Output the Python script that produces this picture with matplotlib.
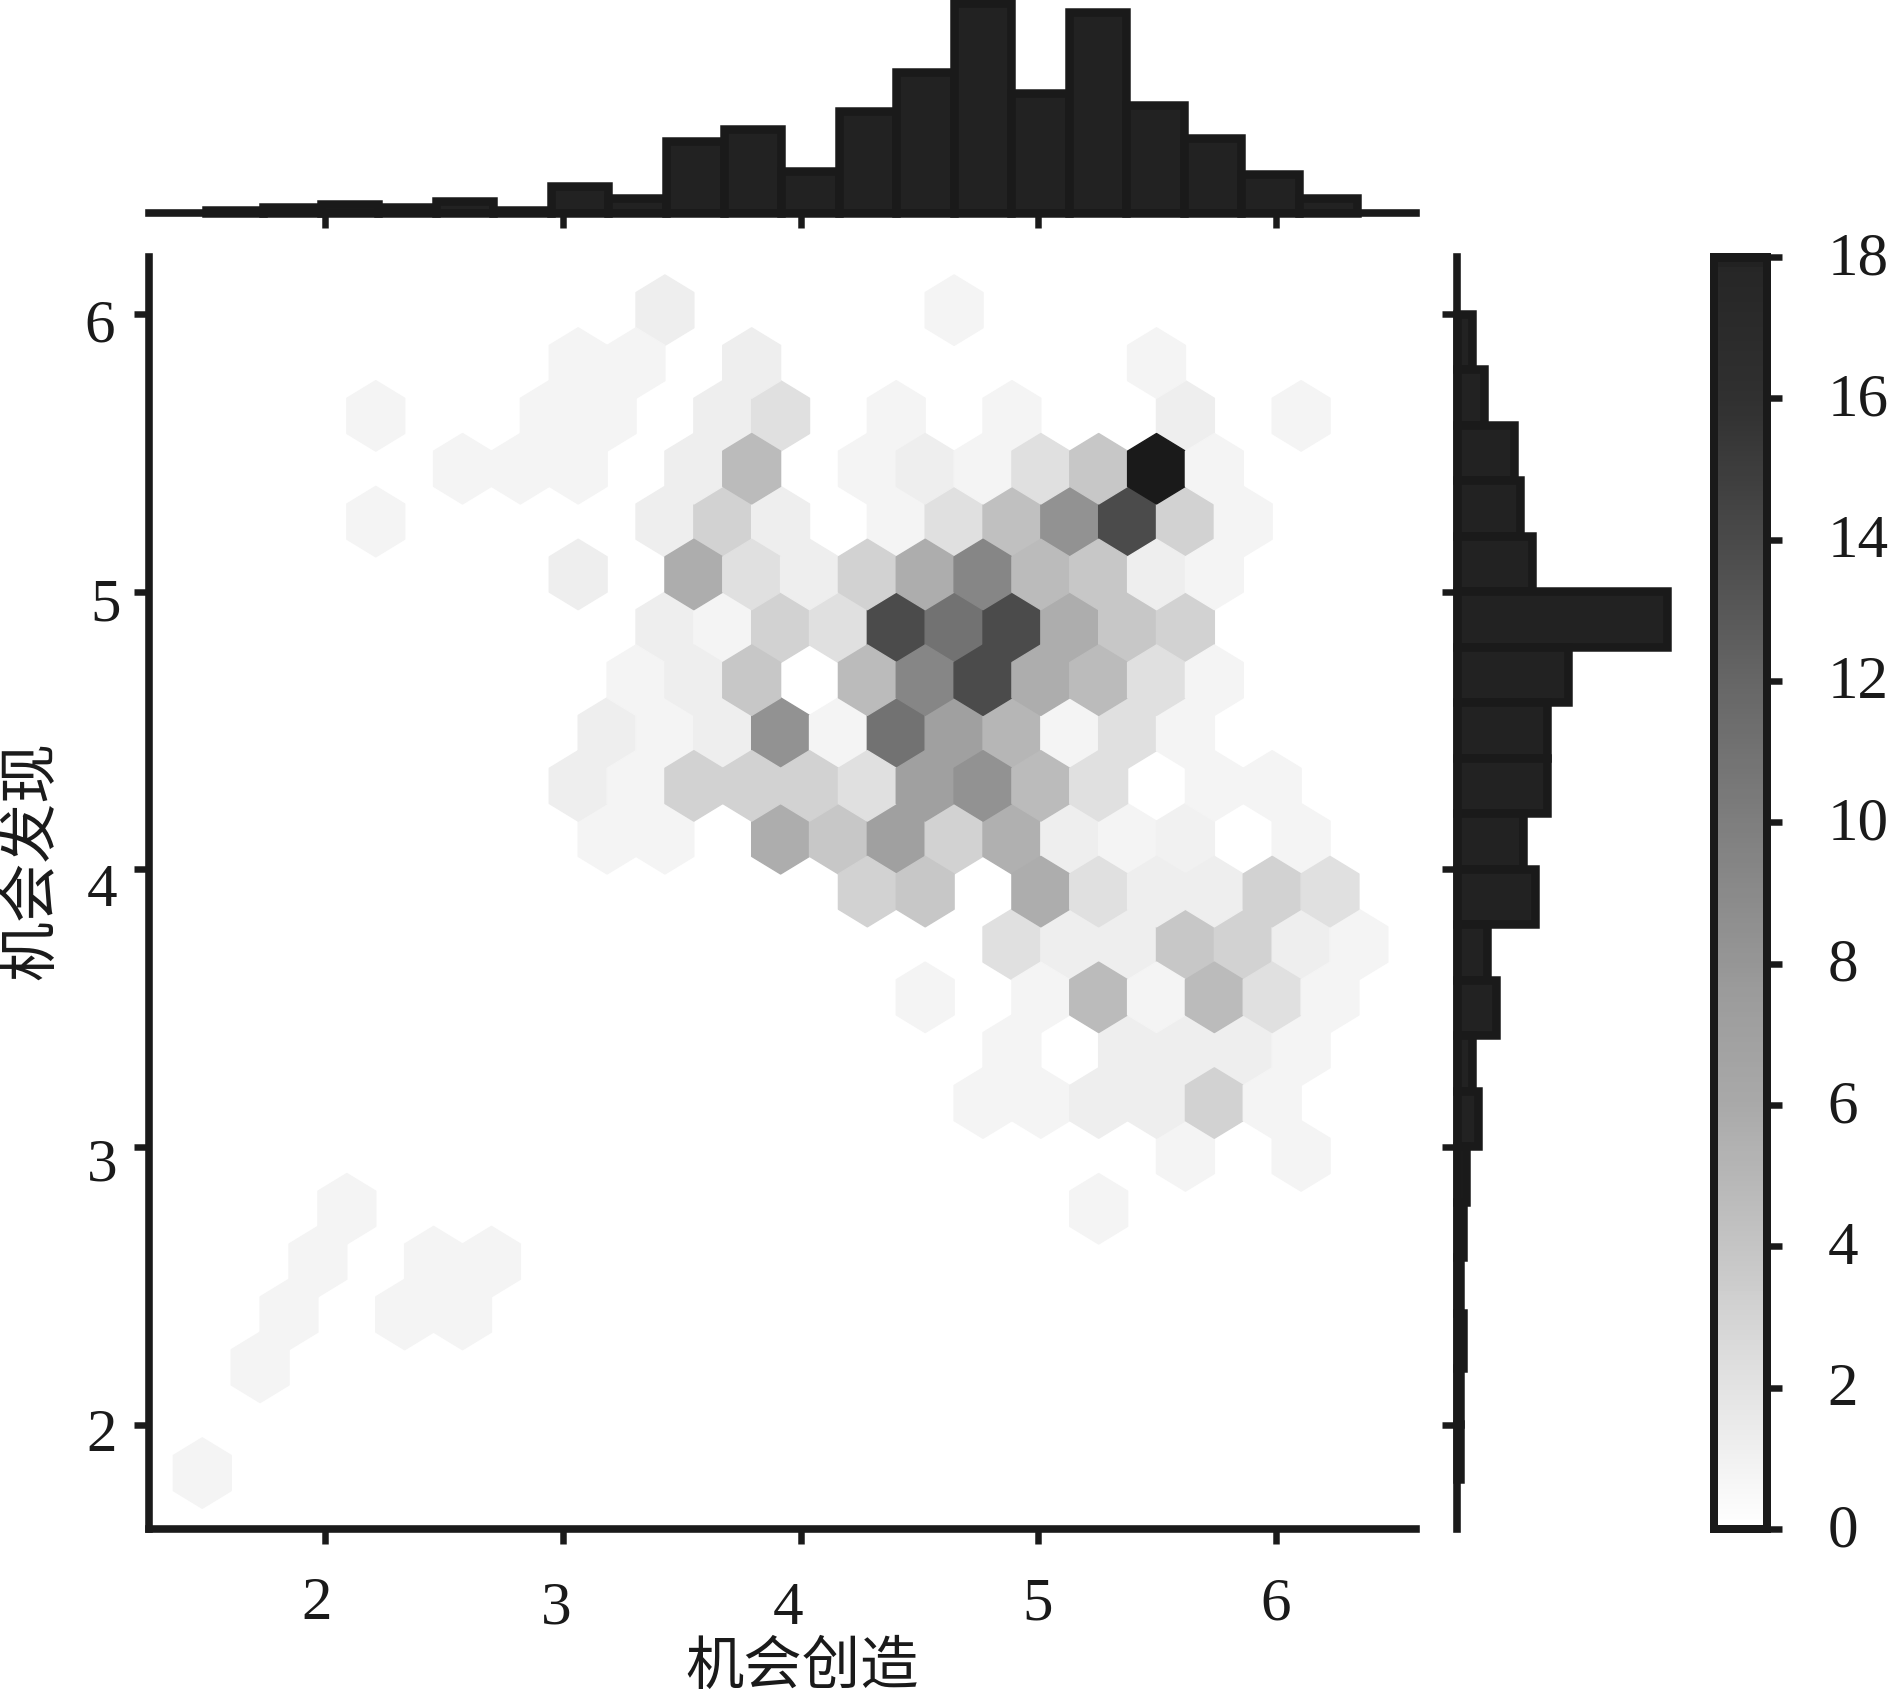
import numpy as np
import matplotlib
matplotlib.use('Agg')
import matplotlib.pyplot as plt
from matplotlib.colors import LinearSegmentedColormap
from matplotlib.transforms import ScaledTranslation

plt.rcParams['font.family'] = ['Liberation Serif', 'Noto Sans CJK SC', 'DejaVu Sans']

W, H = 1888, 1700
INK = '#1a1a1a'

# 六边形格子：行号、列号（半格为单位）、计数
hex_row = [0, 2, 3, 3, 3, 4, 4, 4, 5, 5,
           6, 6,
           7, 7, 7, 7, 7, 7,
           8, 8, 8, 8, 8,
           9, 9, 9, 9, 9, 9, 9,
           10, 10, 10, 10, 10, 10, 10,
           11, 11, 11, 11, 11, 11, 11, 11,
           12, 12, 12, 12, 12, 12, 12, 12, 12, 12, 12,
           13, 13, 13, 13, 13, 13, 13, 13, 13, 13, 13, 13,
           14, 14, 14, 14, 14, 14, 14, 14, 14, 14, 14,
           15, 15, 15, 15, 15, 15, 15, 15, 15, 15,
           16, 16, 16, 16, 16, 16, 16, 16, 16, 16,
           17, 17, 17, 17, 17, 17, 17, 17, 17, 17, 17,
           18, 18, 18, 18, 18, 18, 18, 18, 18, 18, 18,
           19, 19, 19, 19, 19, 19, 19, 19, 19, 19, 19, 19,
           20, 20, 20, 20, 20, 20, 20, 20, 20,
           21, 21, 21, 21,
           22, 22]
hex_col = [0, 2, 3, 7, 9, 4, 8, 10, 5, 31,
           34, 38,
           27, 29, 31, 33, 35, 37,
           28, 32, 34, 36, 38,
           25, 29, 31, 33, 35, 37, 39,
           28, 30, 32, 34, 36, 38, 40,
           23, 25, 29, 31, 33, 35, 37, 39,
           14, 16, 20, 22, 24, 26, 28, 30, 32, 34, 38,
           13, 15, 17, 19, 21, 23, 25, 27, 29, 31, 35, 37,
           14, 16, 18, 20, 22, 24, 26, 28, 30, 32, 34,
           15, 17, 19, 23, 25, 27, 29, 31, 33, 35,
           16, 18, 20, 22, 24, 26, 28, 30, 32, 34,
           13, 17, 19, 21, 23, 25, 27, 29, 31, 33, 35,
           6, 16, 18, 20, 24, 26, 28, 30, 32, 34, 36,
           9, 11, 13, 17, 19, 23, 25, 27, 29, 31, 33, 35,
           6, 12, 14, 18, 20, 24, 28, 34, 38,
           13, 15, 19, 33,
           16, 26]
hex_n = [0.8, 0.8, 0.8, 0.8, 0.8, 0.8, 0.8, 0.8, 0.8, 0.8,
         0.8, 0.8,
         0.8, 0.8, 1.2, 1.2, 3.1, 0.8,
         0.8, 1.2, 1.2, 1.2, 0.8,
         0.8, 0.8, 4.7, 0.8, 4.7, 2.2, 0.8,
         2.2, 1.2, 1.2, 3.8, 3.1, 1.2, 0.8,
         3.1, 3.8, 5.7, 2.2, 1.2, 1.2, 3.1, 2.2,
         0.8, 0.8, 5.7, 3.8, 7.1, 3.1, 5.5, 1.2, 0.8, 1.0, 0.8,
         1.2, 0.8, 3.1, 3.1, 3.1, 2.2, 7.1, 8.3, 4.7, 2.2, 0.8, 0.8,
         1.2, 0.8, 1.2, 8.3, 0.8, 11.0, 7.1, 5.0, 0.8, 2.2, 0.8,
         0.8, 1.2, 3.8, 4.7, 9.3, 13.9, 5.7, 4.7, 2.2, 0.8,
         1.2, 0.8, 3.1, 2.2, 13.9, 11.0, 13.9, 5.7, 3.8, 3.1,
         1.2, 5.7, 2.2, 1.2, 3.1, 5.7, 9.3, 4.7, 3.8, 1.2, 0.8,
         0.8, 1.2, 3.1, 1.2, 0.8, 2.2, 4.3, 8.3, 13.9, 3.1, 0.8,
         0.8, 0.8, 0.8, 1.2, 4.7, 0.8, 1.2, 0.8, 2.2, 3.8, 18.0, 0.8,
         0.8, 0.8, 0.8, 1.2, 2.2, 0.8, 0.8, 1.2, 0.8,
         0.8, 0.8, 1.2, 0.8,
         1.2, 0.8]

# 边缘直方图
x_hist = [1, 2, 3, 2, 4, 1, 9, 5, 24, 28, 14, 34, 47, 70, 40, 67, 36, 25, 13, 5]
y_hist = [5, 9, 19, 21, 25, 70, 37, 30, 30, 22, 26, 10, 13, 5, 7, 3, 2, 1, 2, 1, 1]

# 色条灰度
cbar_counts = [0, 2, 4, 6, 7.5, 12, 14, 16, 17.9, 18]
cbar_grey = [255, 227, 196, 169, 156, 102, 74, 48, 38, 26]
cbar_ticks = [0, 2, 4, 6, 8, 10, 12, 14, 16, 18]

x_ticks = [2, 3, 4, 5, 6]
y_ticks = [2, 3, 4, 5, 6]
x_label = '机会创造'
y_label = '机会发现'


def px2pt(p):
    return p * 72 / 100


def add_axes_px(fig, left, top, right, bottom):
    return fig.add_axes([left / W, 1 - bottom / H, (right - left) / W, (bottom - top) / H])


def style_axes(ax):
    for s in ax.spines.values():
        s.set_linewidth(px2pt(7.6))
        s.set_color(INK)
        s.set_capstyle('projecting')
    ax.tick_params(length=px2pt(15), width=px2pt(6.5), color=INK)


fig = plt.figure(figsize=(W / 100, H / 100), dpi=100, facecolor='white')

ax_main = add_axes_px(fig, 149, 257, 1416, 1529)
ax_top = add_axes_px(fig, 149, 0, 1416, 213)
ax_right = add_axes_px(fig, 1457, 257, 1670, 1529)
cax = add_axes_px(fig, 1714, 257, 1766.5, 1529)

xlim = (1.26, 6.588)
ylim = (1.6256, 6.205)

# 六边形网格
x0, dx = 1.484, 0.2432
y0, dy = 1.827, 0.1903
hex_x = x0 + np.array(hex_col) * dx / 2
hex_y = y0 + np.array(hex_row) * dy
greys = [(c / 18, str(g / 255)) for c, g in zip(cbar_counts, cbar_grey)]
cmap = LinearSegmentedColormap.from_list('hexgrey', greys, N=256)
hb = ax_main.hexbin(hex_x, hex_y, C=hex_n, reduce_C_function=np.sum,
                    gridsize=(20, 11), extent=(x0, x0 + 20 * dx, y0, y0 + 22 * dy),
                    cmap=cmap, vmin=0, vmax=18)
ax_main.set_xlim(xlim)
ax_main.set_ylim(ylim)
ax_main.spines['top'].set_visible(False)
ax_main.spines['right'].set_visible(False)
ax_main.set_xticks(x_ticks)
ax_main.set_yticks(y_ticks)
ax_main.set_xticklabels([])
ax_main.set_yticklabels([])
style_axes(ax_main)

bar_kw = dict(facecolor='#222222', edgecolor=INK, linewidth=px2pt(8.5), clip_on=False)

# 上方直方图
x_edges = 1.498 + 0.242 * np.arange(len(x_hist))
ax_top.bar(x_edges, x_hist, width=0.242, align='edge', **bar_kw)
ax_top.set_xlim(xlim)
ax_top.set_ylim(0, 71)
ax_top.spines[['top', 'left', 'right']].set_visible(False)
ax_top.set_xticks(x_ticks)
ax_top.set_xticklabels([])
ax_top.set_yticks([])
style_axes(ax_top)

# 右侧直方图
y_edges = 6.0 - 0.1998 * np.arange(len(y_hist))
ax_right.barh(y_edges, y_hist, height=-0.1998, align='edge', **bar_kw)
ax_right.set_ylim(ylim)
ax_right.set_xlim(0, 71)
ax_right.spines[['top', 'bottom', 'right']].set_visible(False)
ax_right.set_yticks(y_ticks)
ax_right.set_yticklabels([])
ax_right.set_xticks([])
style_axes(ax_right)

# 色条
cb = fig.colorbar(hb, cax=cax, ticks=cbar_ticks)
cb.outline.set_linewidth(px2pt(8))
cb.outline.set_edgecolor(INK)
cax.tick_params(length=px2pt(15), width=px2pt(6.5), color=INK, pad=px2pt(46),
                labelsize=44, labelcolor=INK)
up = ScaledTranslation(0, 4 / 100, fig.dpi_scale_trans)
for lab in cax.get_yticklabels():
    lab.set_transform(lab.get_transform() + up)

# 刻度文字位置与坐标轴刻度略有错位，逐个放
x_label_px = [317, 556, 788, 1038, 1276]
x_label_py = [1604, 1609, 1609, 1605, 1605]
y_label_px = [102, 102, 102, 106, 100]
y_label_py = [1436, 1166, 891, 606, 327]
for t, px, py in zip(x_ticks, x_label_px, x_label_py):
    fig.text(px / W, 1 - py / H, str(t), fontsize=44, color=INK, ha='center', va='center')
for t, px, py in zip(y_ticks, y_label_px, y_label_py):
    fig.text(px / W, 1 - py / H, str(t), fontsize=44, color=INK, ha='center', va='center')

fig.text(802 / W, 1 - 1669 / H, x_label, fontsize=42, color=INK, ha='center', va='center')
fig.text(33 / W, 1 - 860 / H, y_label, fontsize=43, color=INK, ha='center', va='center',
         rotation=90)

fig.savefig('out.png', dpi=100, facecolor='white')
